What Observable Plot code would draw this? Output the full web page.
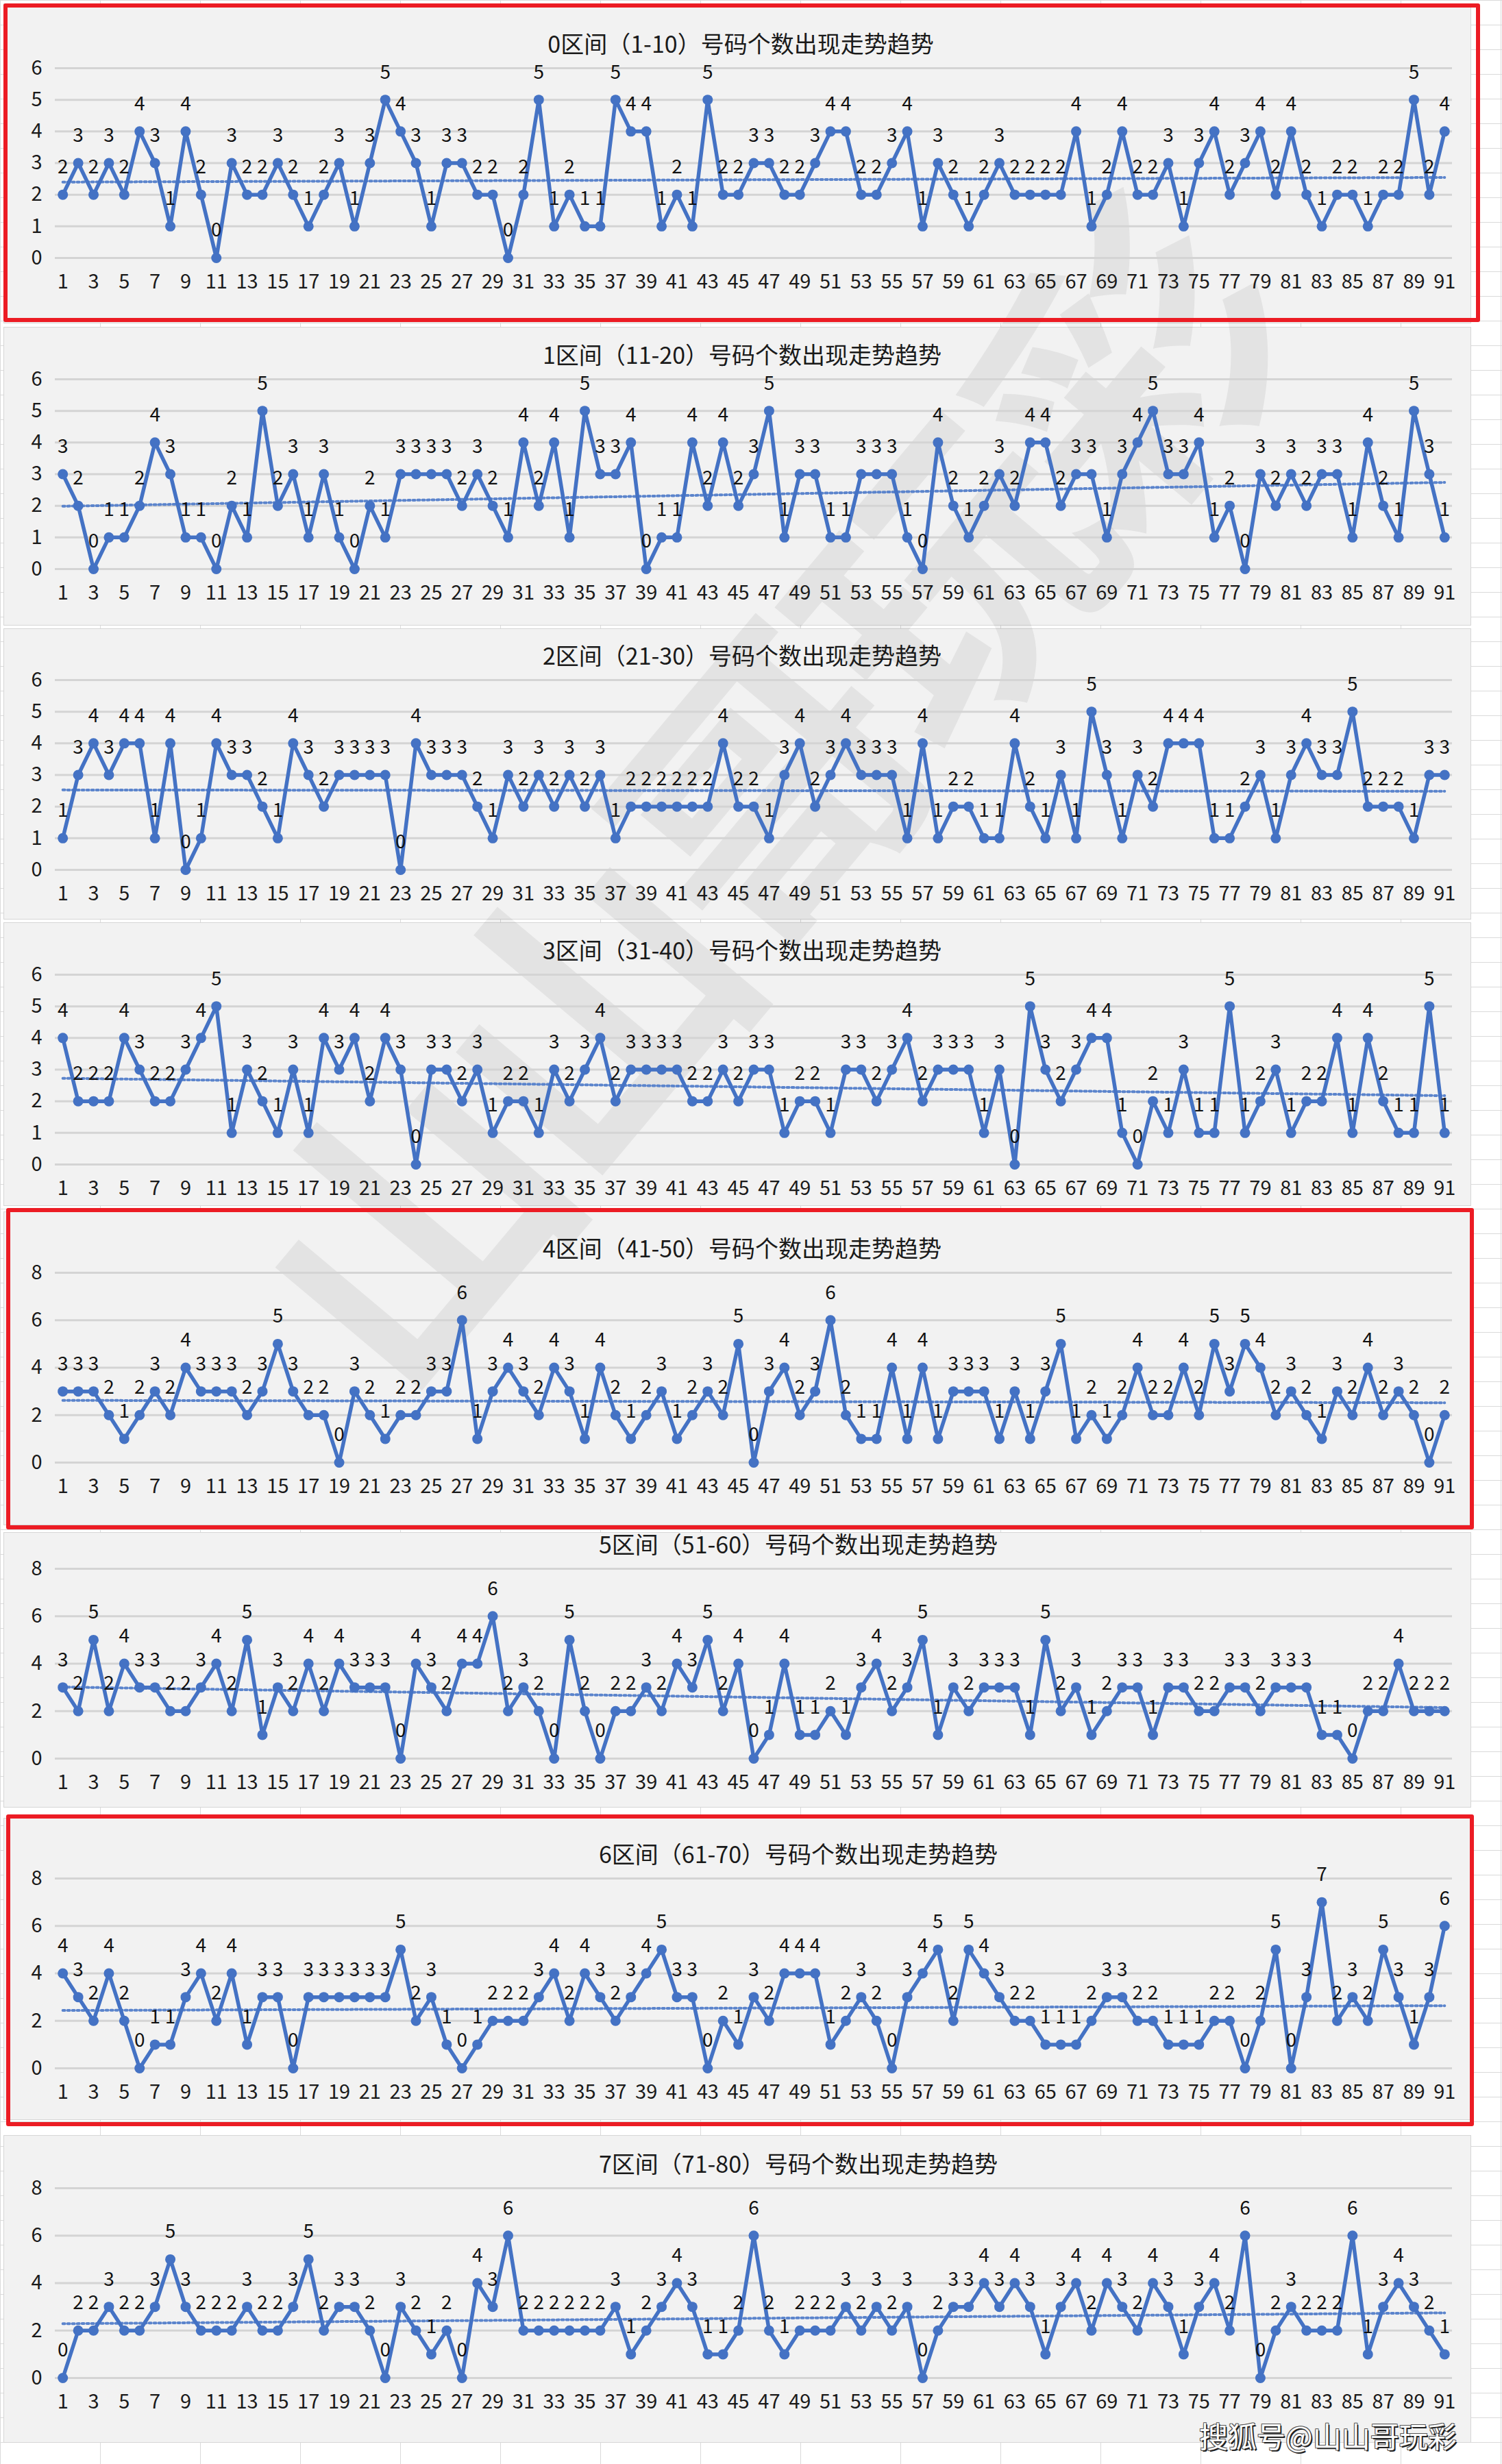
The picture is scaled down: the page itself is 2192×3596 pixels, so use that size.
<!DOCTYPE html>
<html><head><meta charset="utf-8">
<script src="https://cdn.jsdelivr.net/npm/d3@7"></script>
<script src="https://cdn.jsdelivr.net/npm/@observablehq/plot@0.6"></script>
<style>
html,body{margin:0;padding:0;}
body{width:2192px;height:3596px;position:relative;overflow:hidden;background-color:#fff;
 background-image:linear-gradient(#dadada 1px,transparent 1px),linear-gradient(90deg,#dadada 1px,transparent 1px);
 background-size:146px 36px;font-family:"Noto Sans CJK SC","Noto Sans",sans-serif;}
.panel{position:absolute;left:5px;width:2142px;background:#f2f2f2;border:1px solid #d6d6d6;box-sizing:border-box;}
.wm{position:absolute;left:1100px;top:1150px;transform:translate(-50%,-50%) rotate(-50deg);font-size:430px;line-height:1;color:rgba(0,0,0,0.06);white-space:nowrap;font-weight:700;letter-spacing:-20px;}
.chart{position:absolute;left:0;}
.title{position:absolute;width:1400px;text-align:center;font-size:34px;line-height:40px;color:#1a1a1a;white-space:nowrap;}
.redbox{position:absolute;border:6px solid #ec1c24;box-sizing:border-box;border-radius:3px;}
.sohu{position:absolute;left:1750px;top:3526px;font-size:42px;line-height:56px;color:#fff;white-space:nowrap;
 text-shadow:2px 2px 0 #222,-1px -1px 0 #555,1px -1px 0 #555,-1px 1px 0 #555;}
</style>
</head><body>
<script>
// ---- data ----
const periods = d3.range(1, 92);
const titles = [
  "0区间（1-10）号码个数出现走势趋势",
  "1区间（11-20）号码个数出现走势趋势",
  "2区间（21-30）号码个数出现走势趋势",
  "3区间（31-40）号码个数出现走势趋势",
  "4区间（41-50）号码个数出现走势趋势",
  "5区间（51-60）号码个数出现走势趋势",
  "6区间（61-70）号码个数出现走势趋势",
  "7区间（71-80）号码个数出现走势趋势"
];
const zone0 = [2,3,2,3,2,4,3,1,4,2, 0,3,2,2,3,2,1,2,3,1, 3,5,4,3,1,3,3,2,2,0, 2,5,1,2,1,1,5,4,4,1, 2,1,5,2,2,3,3,2,2,3, 4,4,2,2,3,4,1,3,2,1, 2,3,2,2,2,2,4,1,2,4, 2,2,3,1,3,4,2,3,4,2, 4,2,1,2,2,1,2,2,5,2, 4];
const zone1 = [3,2,0,1,1,2,4,3,1,1, 0,2,1,5,2,3,1,3,1,0, 2,1,3,3,3,3,2,3,2,1, 4,2,4,1,5,3,3,4,0,1, 1,4,2,4,2,3,5,1,3,3, 1,1,3,3,3,1,0,4,2,1, 2,3,2,4,4,2,3,3,1,3, 4,5,3,3,4,1,2,0,3,2, 3,2,3,3,1,4,2,1,5,3, 1];
const zone2 = [1,3,4,3,4,4,1,4,0,1, 4,3,3,2,1,4,3,2,3,3, 3,3,0,4,3,3,3,2,1,3, 2,3,2,3,2,3,1,2,2,2, 2,2,2,4,2,2,1,3,4,2, 3,4,3,3,3,1,4,1,2,2, 1,1,4,2,1,3,1,5,3,1, 3,2,4,4,4,1,1,2,3,1, 3,4,3,3,5,2,2,2,1,3, 3];
const zone3 = [4,2,2,2,4,3,2,2,3,4, 5,1,3,2,1,3,1,4,3,4, 2,4,3,0,3,3,2,3,1,2, 2,1,3,2,3,4,2,3,3,3, 3,2,2,3,2,3,3,1,2,2, 1,3,3,2,3,4,2,3,3,3, 1,3,0,5,3,2,3,4,4,1, 0,2,1,3,1,1,5,1,2,3, 1,2,2,4,1,4,2,1,1,5, 1];
const zone4 = [3,3,3,2,1,2,3,2,4,3, 3,3,2,3,5,3,2,2,0,3, 2,1,2,2,3,3,6,1,3,4, 3,2,4,3,1,4,2,1,2,3, 1,2,3,2,5,0,3,4,2,3, 6,2,1,1,4,1,4,1,3,3, 3,1,3,1,3,5,1,2,1,2, 4,2,2,4,2,5,3,5,4,2, 3,2,1,3,2,4,2,3,2,0, 2];
const zone5 = [3,2,5,2,4,3,3,2,2,3, 4,2,5,1,3,2,4,2,4,3, 3,3,0,4,3,2,4,4,6,2, 3,2,0,5,2,0,2,2,3,2, 4,3,5,2,4,0,1,4,1,1, 2,1,3,4,2,3,5,1,3,2, 3,3,3,1,5,2,3,1,2,3, 3,1,3,3,2,2,3,3,2,3, 3,3,1,1,0,2,2,4,2,2, 2];
const zone6 = [4,3,2,4,2,0,1,1,3,4, 2,4,1,3,3,0,3,3,3,3, 3,3,5,2,3,1,0,1,2,2, 2,3,4,2,4,3,2,3,4,5, 3,3,0,2,1,3,2,4,4,4, 1,2,3,2,0,3,4,5,2,5, 4,3,2,2,1,1,1,2,3,3, 2,2,1,1,1,2,2,0,2,5, 0,3,7,2,3,2,5,3,1,3, 6];
const zone7 = [0,2,2,3,2,2,3,5,3,2, 2,2,3,2,2,3,5,2,3,3, 2,0,3,2,1,2,0,4,3,6, 2,2,2,2,2,2,3,1,2,3, 4,3,1,1,2,6,2,1,2,2, 2,3,2,3,2,3,0,2,3,3, 4,3,4,3,1,3,4,2,4,3, 2,4,3,1,3,4,2,6,0,2, 3,2,2,2,6,1,3,4,3,2, 1];
const xTickLabels = [1,3,5,7,9,11,13,15,17,19,21,23,25,27,29,31,33,35,37,39,41,43,45,47,49,51,53,55,57,59,61,63,65,67,69,71,73,75,77,79,81,83,85,87,89,91];
const yTicksSix = [0,1,2,3,4,5,6];
const yTicksEight = [0,2,4,6,8];

// ---- layout ----
const zones = [zone0, zone1, zone2, zone3, zone4, zone5, zone6, zone7];
const yTicksFor = [yTicksSix, yTicksSix, yTicksSix, yTicksSix, yTicksEight, yTicksEight, yTicksEight, yTicksEight];
const gridTop = [99, 553, 992, 1422, 1857, 2289, 2741, 3193];
const plotH = 277;
const titleCx = [1081, 1083, 1083, 1083, 1083, 1165, 1165, 1165];
const panelRects = [[5,472],[477,913],[917,1342],[1346,1760],[1768,2226],[2236,2638],[2653,3094],[3116,3565]];
const redBoxes = [[5,5,2155,465],[9,1763,2142,469],[9,2648,2142,455]];

const BLUE = "#4472C4";
const FONT = "'Noto Sans CJK SC','Noto Sans',sans-serif";

function addDiv(cls, style, text) {
  const d = document.createElement("div");
  d.className = cls;
  Object.assign(d.style, style);
  if (text != null) d.textContent = text;
  document.body.appendChild(d);
  return d;
}

panelRects.forEach(([t, b]) => addDiv("panel", {top: t + "px", height: (b - t) + "px"}));
addDiv("wm", {}, "山山哥玩彩");

zones.forEach((vals, i) => {
  const data = vals.map((v, k) => ({x: periods[k], y: v}));
  const ticks = yTicksFor[i];
  const mt = 40, mb = 60;
  const chart = Plot.plot({
    width: 2192,
    height: mt + plotH + mb,
    marginTop: mt, marginBottom: mb, marginLeft: 80, marginRight: 73,
    style: {fontFamily: FONT, fontSize: "29px", color: "#1a1a1a", background: "transparent", overflow: "visible"},
    x: {domain: [0.5, 91.5]},
    y: {domain: [0, d3.max(ticks)]},
    marks: [
      Plot.ruleY(ticks, {stroke: "#d4d4d4", strokeWidth: 3}),
      Plot.axisY({ticks: ticks, tickSize: 0, tickPadding: 19, fontSize: 29, tickFormat: d => String(d), label: null}),
      Plot.axisX({ticks: xTickLabels, tickSize: 0, tickPadding: 24, fontSize: 29, tickFormat: d => String(d), label: null}),
      Plot.linearRegressionY(data, {x: "x", y: "y", stroke: "#5b84cc", strokeWidth: 4, strokeDasharray: "3 4", ci: 0}),
      Plot.line(data, {x: "x", y: "y", stroke: BLUE, strokeWidth: 5.5}),
      Plot.dot(data, {x: "x", y: "y", r: 7.5, fill: BLUE, stroke: "none"}),
      Plot.text(data, {x: "x", y: "y", text: d => String(d.y), dy: -40, fontSize: 28, fill: "#111"})
    ]
  });
  chart.classList.add("chart");
  chart.style.position = "absolute";
  chart.style.left = "0px";
  chart.style.top = (gridTop[i] - mt) + "px";
  document.body.appendChild(chart);
  addDiv("title", {left: (titleCx[i] - 700) + "px", top: (gridTop[i] - 36 - 20) + "px"}, titles[i]);
});

redBoxes.forEach(([l, t, w, h]) => addDiv("redbox", {left: l + "px", top: t + "px", width: w + "px", height: h + "px"}));
addDiv("sohu", {}, "搜狐号@山山哥玩彩");
</script>
</body></html>
